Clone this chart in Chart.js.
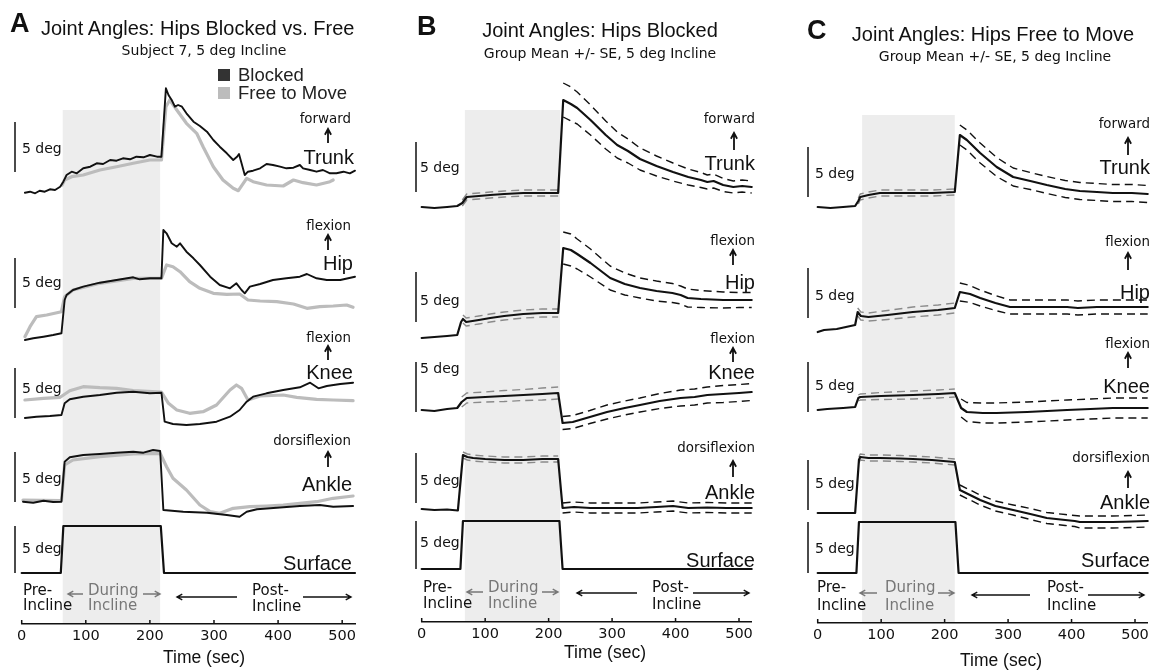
<!DOCTYPE html>
<html>
<head>
<meta charset="utf-8">
<script src="https://cdn.jsdelivr.net/npm/chart.js@4.4.1/dist/chart.umd.min.js"></script>
<style>
  html, body { margin: 0; padding: 0; background: #fff; }
  #fig { position: relative; width: 1159px; height: 671px; overflow: hidden; color: #111; }
  #fig canvas { position: absolute; top: 0; }
  #arrows { position: absolute; left: 0; top: 0; }
  .t { position: absolute; white-space: nowrap; line-height: 1; }
  .letter { font: bold 27px "Liberation Sans", Arial, sans-serif; }
  .title { font: 20px "Liberation Sans", Arial, sans-serif; }
  .sub { font: 14px "DejaVu Sans", sans-serif; }
  .legend { font: 18.5px "Liberation Sans", Arial, sans-serif; color: #222; }
  .small { font: 13.4px "DejaVu Sans", sans-serif; }
  .big { font: 20px "Liberation Sans", Arial, sans-serif; }
  .deg { font: 14px "DejaVu Sans", sans-serif; }
  .phase { font: 15px "DejaVu Sans", sans-serif; }
  .during { font: 15px "DejaVu Sans", sans-serif; color: #777; }
  .time { font: 17.5px "Liberation Sans", Arial, sans-serif; }
  .sq { position: absolute; width: 12px; height: 12px; }
</style>
</head>
<body>
<div id="fig">
  <canvas id="chartA" width="386" height="671" style="left:0px"></canvas>
  <canvas id="chartB" width="386" height="671" style="left:386px"></canvas>
  <canvas id="chartC" width="387" height="671" style="left:772px"></canvas>
  <svg id="arrows" width="1159" height="671"></svg>
</div>

<script>
// ---- data: joint angles in deg, relative to the pre-incline level, time in sec ----
const timeTicks = [0, 100, 200, 300, 400, 500];
const timeMax = 520;

// platform surface angle (same protocol in every panel)
const surfaceTrace = [[0, 0], [61, 0], [65, 5], [217, 5], [222, 0], [520, 0]];

// the shaded incline period, per panel
const bandA = [64, 216];
const bandB = [68, 218];
const bandC = [70, 216];

// panel A, subject 7: [time, deg]
const trunkBlockedA = [[5, 0.03], [13, 0.13], [21, -0.03], [28, 0.23], [36, 0.13], [44, 0.37], [52, 0.3], [60, 0.63], [65, 1.13], [70, 1.8], [78, 2.13], [86, 1.97], [96, 2.47], [107, 2.63], [117, 2.97], [127, 2.9], [138, 3.3], [148, 3.23], [158, 3.47], [169, 3.37], [179, 3.63], [190, 3.57], [200, 3.8], [211, 3.63], [218, 3.63], [225, 10.47], [229, 9.8], [234, 9.3], [239, 8.63], [244, 8.8], [250, 8.63], [257, 7.97], [268, 7.13], [278, 6.7], [289, 6.13], [299, 5.3], [309, 4.63], [320, 3.97], [330, 3.3], [336, 3.63], [339, 3.9], [343, 2.97], [348, 1.8], [353, 2.13], [361, 2.23], [372, 2.47], [382, 2.9], [392, 2.8], [403, 2.63], [413, 2.47], [424, 2.53], [434, 2.8], [439, 2.47], [450, 2.3], [460, 2.13], [470, 2.3], [481, 1.97], [491, 1.97], [502, 2.13], [512, 1.97], [520, 2.23]];
const trunkFreeA = [[63, 0.8], [67, 1.3], [78, 1.63], [96, 1.8], [122, 2.3], [148, 2.63], [174, 2.97], [200, 3.3], [218, 3.3], [225, 8.63], [231, 9.3], [242, 8.3], [257, 6.97], [273, 5.97], [283, 4.63], [299, 2.63], [314, 1.3], [330, 0.47], [338, 0.23], [351, 1.47], [361, 1.13], [382, 0.8], [408, 0.7], [424, 1.3], [439, 1.03], [460, 0.8], [481, 1.13], [486, 1.3]];
const hipBlockedA = [[5, 0], [18, 0.17], [34, 0.33], [49, 0.5], [62, 0.67], [67, 4.0], [70, 4.5], [80, 5.0], [96, 5.33], [122, 5.73], [148, 6.0], [174, 6.27], [184, 6.07], [200, 6.17], [218, 6.17], [221, 11.0], [226, 10.67], [234, 9.67], [242, 9.33], [247, 9.67], [257, 8.83], [268, 8.17], [278, 7.5], [294, 6.33], [309, 5.5], [325, 5.17], [335, 5.67], [343, 5.0], [348, 4.67], [356, 5.33], [372, 5.6], [392, 6.0], [413, 6.17], [434, 6.33], [445, 6.6], [460, 6.17], [476, 6.0], [497, 6.0], [520, 6.33]];
const hipFreeA = [[5, 0.33], [13, 1.33], [23, 2.33], [39, 2.5], [62, 2.83], [67, 4.33], [80, 5.0], [122, 5.67], [174, 6.17], [218, 6.17], [226, 7.5], [236, 7.33], [247, 6.83], [262, 5.83], [278, 5.17], [299, 4.67], [320, 4.57], [340, 4.6], [353, 4.0], [372, 3.9], [398, 3.83], [424, 3.6], [445, 3.17], [465, 3.33], [486, 3.4], [507, 3.5], [517, 3.27]];
const kneeBlockedA = [[5, 0], [23, 0.13], [44, 0.2], [62, 0.3], [67, 1.47], [75, 1.87], [96, 2.13], [122, 2.3], [148, 2.53], [174, 2.63], [200, 2.47], [218, 2.53], [223, -0.37], [236, -0.6], [257, -0.7], [278, -0.6], [304, -0.37], [325, 0.13], [340, 0.8], [351, 1.63], [361, 2.13], [382, 2.47], [408, 2.8], [434, 3.07], [450, 3.53], [463, 2.97], [476, 3.2], [497, 3.4], [517, 3.53]];
const kneeFreeA = [[5, 1.8], [34, 1.97], [60, 2.07], [75, 2.73], [96, 3.13], [122, 3.03], [148, 2.97], [174, 2.73], [218, 2.6], [229, 1.47], [242, 0.8], [262, 0.47], [283, 0.63], [304, 1.3], [325, 2.8], [335, 3.3], [343, 2.97], [353, 1.8], [372, 2.2], [408, 2.3], [429, 2.07], [460, 1.87], [486, 1.8], [517, 1.73]];
const ankleBlockedA = [[2, 0.03], [18, -0.07], [34, 0.13], [49, 0], [62, 0.03], [67, 4.03], [75, 4.47], [96, 4.7], [122, 4.8], [148, 4.93], [174, 5.03], [190, 4.93], [205, 5.2], [216, 5.1], [221, -0.8], [252, -0.97], [289, -1.07], [320, -1.3], [340, -1.47], [351, -0.97], [367, -0.73], [408, -0.53], [434, -0.4], [465, -0.3], [486, -0.47], [517, -0.4]];
const ankleFreeA = [[2, 0.2], [62, 0.13], [67, 3.7], [80, 4.2], [122, 4.53], [174, 4.8], [216, 4.87], [226, 3.53], [236, 2.37], [257, 1.2], [278, -0.3], [294, -0.97], [309, -1.13], [330, -0.63], [356, -0.47], [382, -0.4], [408, -0.3], [434, -0.13], [460, 0.03], [486, 0.37], [517, 0.6]];

// panels B and C, group mean: [time, mean deg, SE deg] (no SE drawn before the incline)
const trunkB = [[0, 0, null], [20, -0.1, null], [40, 0, null], [56, 0.1, null], [64, 0.4, 0.3], [71, 1.0, 0.3], [90, 1.1, 0.3], [108, 1.2, 0.3], [130, 1.3, 0.3], [160, 1.4, 0.3], [190, 1.4, 0.3], [215, 1.4, 0.3], [223, 10.7, 1.7], [235, 10.3, 1.7], [245, 9.9, 1.6], [266, 8.7, 1.5], [290, 7.2, 1.4], [308, 6.2, 1.3], [325, 5.6, 1.2], [344, 4.8, 1.1], [370, 4.1, 1.0], [396, 3.5, 0.9], [420, 3.0, 0.8], [440, 2.7, 0.75], [450, 2.5, 0.7], [460, 2.6, 0.7], [475, 2.2, 0.65], [491, 2.0, 0.6], [505, 2.1, 0.6], [520, 2.0, 0.6]];
const hipB = [[0, 0, null], [20, 0.1, null], [40, 0.2, null], [56, 0.3, null], [62, 1.6, null], [65, 1.9, 0.4], [70, 1.6, 0.4], [90, 1.8, 0.4], [108, 2.0, 0.4], [130, 2.2, 0.4], [160, 2.4, 0.4], [190, 2.5, 0.4], [215, 2.5, 0.4], [223, 9.0, 1.6], [235, 8.8, 1.6], [245, 8.4, 1.5], [266, 7.5, 1.4], [297, 6.0, 1.2], [320, 5.4, 1.1], [344, 5.0, 1.0], [370, 4.7, 1.0], [395, 4.5, 0.95], [408, 4.3, 0.9], [419, 4.0, 0.9], [440, 3.9, 0.85], [475, 3.8, 0.8], [500, 3.8, 0.75], [520, 3.8, 0.75]];
const kneeB = [[0, 0, null], [20, -0.1, null], [40, 0.1, null], [56, 0.2, null], [63, 0.8, 0.5], [71, 1.2, 0.5], [100, 1.3, 0.5], [130, 1.4, 0.55], [160, 1.5, 0.55], [190, 1.6, 0.6], [215, 1.7, 0.6], [222, -1.3, 0.65], [238, -1.2, 0.65], [265, -0.7, 0.65], [292, -0.2, 0.7], [320, 0.2, 0.7], [344, 0.5, 0.7], [375, 0.9, 0.75], [408, 1.2, 0.8], [430, 1.3, 0.8], [450, 1.5, 0.8], [475, 1.6, 0.85], [500, 1.7, 0.85], [520, 1.8, 0.85]];
const ankleB = [[0, 0.1, null], [20, 0, null], [40, 0.05, null], [57, -0.05, null], [65, 5.5, 0.3], [72, 5.3, 0.3], [81, 5.2, 0.3], [100, 5.1, 0.3], [130, 5.0, 0.3], [160, 5.0, 0.3], [190, 5.1, 0.3], [215, 5.1, 0.3], [222, 0.2, 0.5], [240, 0.3, 0.5], [266, 0.2, 0.5], [300, 0.2, 0.5], [340, 0.2, 0.5], [370, 0.3, 0.5], [396, 0.4, 0.5], [420, 0.2, 0.5], [450, 0.25, 0.5], [480, 0.2, 0.5], [520, 0.2, 0.5]];

const trunkC = [[0, 0, null], [20, -0.1, null], [40, 0, null], [59, 0.1, null], [64, 0.6, 0.3], [67, 1.0, 0.3], [80, 1.2, 0.3], [98, 1.4, 0.3], [130, 1.4, 0.3], [150, 1.4, 0.3], [180, 1.4, 0.3], [216, 1.5, 0.3], [224, 7.2, 1.0], [235, 6.7, 1.0], [256, 5.4, 1.0], [282, 4.0, 0.95], [308, 3.0, 0.9], [335, 2.6, 0.85], [361, 2.2, 0.85], [390, 1.8, 0.85], [413, 1.6, 0.85], [440, 1.5, 0.85], [465, 1.4, 0.85], [495, 1.4, 0.85], [520, 1.3, 0.85]];
const hipC = [[0, 0, null], [10, 0.2, null], [30, 0.3, null], [59, 0.7, null], [63, 2.0, 0.4], [68, 1.6, 0.4], [80, 1.5, 0.4], [110, 1.7, 0.45], [150, 2.0, 0.5], [190, 2.2, 0.5], [216, 2.4, 0.5], [224, 4.0, 0.9], [240, 3.8, 0.85], [256, 3.4, 0.8], [280, 2.9, 0.75], [303, 2.5, 0.7], [340, 2.5, 0.7], [393, 2.5, 0.7], [410, 2.4, 0.7], [440, 2.5, 0.7], [480, 2.5, 0.7], [520, 2.5, 0.7]];
const kneeC = [[0, 0, null], [15, 0.1, null], [40, 0.2, null], [59, 0.3, null], [64, 1.2, 0.3], [67, 1.3, 0.3], [100, 1.4, 0.35], [150, 1.5, 0.4], [190, 1.6, 0.4], [216, 1.7, 0.4], [226, 0.2, 0.9], [235, -0.2, 0.95], [260, -0.3, 1.0], [282, -0.3, 1.0], [330, -0.2, 1.0], [393, 0, 1.0], [430, 0.1, 1.0], [465, 0.2, 1.0], [520, 0.2, 1.0]];
const ankleC = [[0, 0, null], [30, 0, null], [59, 0, null], [65, 5.3, 0.3], [67, 5.6, 0.3], [80, 5.5, 0.3], [98, 5.5, 0.3], [130, 5.45, 0.3], [150, 5.4, 0.3], [180, 5.3, 0.3], [216, 5.1, 0.3], [224, 2.3, 0.5], [240, 1.8, 0.5], [256, 1.3, 0.5], [280, 0.7, 0.5], [308, 0.3, 0.5], [335, -0.1, 0.55], [361, -0.5, 0.55], [390, -0.7, 0.55], [405, -0.8, 0.55], [413, -0.9, 0.6], [440, -0.9, 0.6], [465, -0.9, 0.6], [495, -0.85, 0.6], [520, -0.8, 0.6]];

// ---- layout: pixel rows of each stacked trace (top, bottom, pre-incline level), px per deg, scale bar start ----
const rowsA = [
  {key: 'trunk', top: 80, bottom: 200, zero: 193, ppd: 10, bar: 2.1},
  {key: 'hip', top: 200, bottom: 345, zero: 340, ppd: 10, bar: 3.2},
  {key: 'knee', top: 345, bottom: 430, zero: 418, ppd: 10, bar: 0},
  {key: 'ankle', top: 430, bottom: 520, zero: 502, ppd: 10, bar: 0},
  {key: 'surface', top: 520, bottom: 624, zero: 573, ppd: 9.4, bar: 0}
];
const rowsB = [
  {key: 'trunk', top: 80, bottom: 215, zero: 207, ppd: 10, bar: 1.5},
  {key: 'hip', top: 215, bottom: 345, zero: 338, ppd: 10, bar: 1.6},
  {key: 'knee', top: 345, bottom: 430, zero: 410, ppd: 10, bar: -0.2},
  {key: 'ankle', top: 430, bottom: 515, zero: 510, ppd: 10, bar: 0.7},
  {key: 'surface', top: 515, bottom: 622, zero: 569, ppd: 9.6, bar: 0}
];
const rowsC = [
  {key: 'trunk', top: 80, bottom: 215, zero: 207, ppd: 10, bar: 1.0},
  {key: 'hip', top: 215, bottom: 340, zero: 332, ppd: 10, bar: 1.4},
  {key: 'knee', top: 340, bottom: 430, zero: 410, ppd: 10, bar: -0.2},
  {key: 'ankle', top: 430, bottom: 518, zero: 513, ppd: 10, bar: 0.3},
  {key: 'surface', top: 518, bottom: 623, zero: 573, ppd: 10.2, bar: 0}
];

const BLACK = '#111111';
const GRAY = '#bcbcbc';

function pts(list) {
  return list.map(p => ({x: p[0], y: p[1]}));
}

function line(data, axis, color, width, extra) {
  return Object.assign({
    data: data, yAxisID: axis, borderColor: color, borderWidth: width,
    pointRadius: 0, tension: 0, fill: false, clip: false,
    borderJoinStyle: 'round', borderCapStyle: 'round'
  }, extra || {});
}

// mean line plus dashed mean +/- SE lines
function meanWithSE(list, axis, band) {
  const withSE = list.filter(p => p[2] !== null);
  const dashed = {
    borderDash: [8, 5],
    borderCapStyle: 'butt',
    segment: {
      borderColor: ctx => {
        const a = ctx.p0.parsed.x, b = ctx.p1.parsed.x;
        if (a < 219.5 && b > 219.5) return 'rgba(0,0,0,0)';   // no SE line across the step
        return b <= band[1] ? '#8a8a8a' : BLACK;
      }
    }
  };
  return [
    line(pts(list), axis, BLACK, 2.2),
    line(withSE.map(p => ({x: p[0], y: p[1] + p[2]})), axis, BLACK, 1.4, dashed),
    line(withSE.map(p => ({x: p[0], y: p[1] - p[2]})), axis, BLACK, 1.4, dashed)
  ];
}

// shaded incline, 5 deg scale bars and the small upward time ticks
function decorPlugin(p) {
  return {
    id: 'decor',
    beforeDatasetsDraw(chart) {
      const {ctx, chartArea: a, scales} = chart;
      const x0 = scales.x.getPixelForValue(p.band[0]);
      const x1 = scales.x.getPixelForValue(p.band[1]);
      ctx.save();
      ctx.fillStyle = '#ededed';
      ctx.fillRect(x0, p.bandTop, x1 - x0, a.bottom - 1 - p.bandTop);
      ctx.restore();
    },
    afterDraw(chart) {
      const {ctx, chartArea: a, scales} = chart;
      ctx.save();
      ctx.strokeStyle = BLACK;
      ctx.lineWidth = 1.5;
      ctx.beginPath();
      p.rows.forEach(r => {
        const s = scales[r.key];
        const x = a.left + p.barDx;
        ctx.moveTo(x, s.getPixelForValue(r.bar));
        ctx.lineTo(x, s.getPixelForValue(r.bar + 5));
      });
      timeTicks.forEach(t => {
        const x = scales.x.getPixelForValue(t);
        ctx.moveTo(x, a.bottom);
        ctx.lineTo(x, a.bottom - 4);
      });
      ctx.stroke();
      ctx.restore();
    }
  };
}

class PanelChart {
  constructor(canvasId, p) {
    this.p = p;
    this.chart = new Chart(document.getElementById(canvasId), {
      type: 'line',
      data: {datasets: p.datasets},
      options: {
        responsive: false,
        animation: false,
        events: [],
        layout: {padding: {left: p.left, right: p.right, top: p.rows[0].top, bottom: 0}},
        scales: this.buildScales(),
        plugins: {legend: {display: false}, tooltip: {enabled: false}}
      },
      plugins: [decorPlugin(p)]
    });
  }

  buildScales() {
    const p = this.p;
    const areaBottom = p.rows[p.rows.length - 1].bottom;
    const scales = {
      x: {
        type: 'linear', min: 0, max: timeMax,
        grid: {display: false, drawTicks: false},
        border: {display: true, color: BLACK, width: 1.5},
        ticks: {color: BLACK, padding: 4, font: {family: 'DejaVu Sans', size: 14.5}},
        afterBuildTicks: s => { s.ticks = timeTicks.map(v => ({value: v})); },
        afterFit: s => { s.height = 671 - areaBottom; }
      }
    };
    // one stacked y axis per trace, top to bottom
    p.rows.forEach((r, i) => {
      scales[r.key] = {
        type: 'linear', display: false, position: 'left',
        stack: 'rows', stackWeight: r.bottom - r.top, weight: 10 - i,
        min: -(r.bottom - r.zero) / r.ppd,
        max: (r.zero - r.top) / r.ppd
      };
    });
    return scales;
  }
}

new PanelChart('chartA', {
  rows: rowsA, band: bandA, bandTop: 110, barDx: -6.7, left: 21.7, right: 31,
  datasets: [
    line(pts(trunkBlockedA), 'trunk', BLACK, 1.9),
    line(pts(hipBlockedA), 'hip', BLACK, 1.9),
    line(pts(kneeBlockedA), 'knee', BLACK, 1.9),
    line(pts(ankleBlockedA), 'ankle', BLACK, 1.9),
    line(pts(surfaceTrace), 'surface', BLACK, 2.2),
    line(pts(trunkFreeA), 'trunk', GRAY, 3.2),
    line(pts(hipFreeA), 'hip', GRAY, 3.2),
    line(pts(kneeFreeA), 'knee', GRAY, 3.2),
    line(pts(ankleFreeA), 'ankle', GRAY, 3.2)
  ]
});

new PanelChart('chartB', {
  rows: rowsB, band: bandB, bandTop: 110, barDx: -5.7, left: 35.7, right: 20.3,
  datasets: [].concat(
    meanWithSE(trunkB, 'trunk', bandB), meanWithSE(hipB, 'hip', bandB),
    meanWithSE(kneeB, 'knee', bandB), meanWithSE(ankleB, 'ankle', bandB),
    [line(pts(surfaceTrace), 'surface', BLACK, 2.2)]
  )
});

new PanelChart('chartC', {
  rows: rowsC, band: bandC, bandTop: 115, barDx: -9.7, left: 45.7, right: 11.3,
  datasets: [].concat(
    meanWithSE(trunkC, 'trunk', bandC), meanWithSE(hipC, 'hip', bandC),
    meanWithSE(kneeC, 'knee', bandC), meanWithSE(ankleC, 'ankle', bandC),
    [line(pts(surfaceTrace), 'surface', BLACK, 2.2)]
  )
});

// ---- text: [text, x, y(center), align l/c/r, class] ----
const texts = [
  ['A', 10, 23, 'l', 'letter'],
  ['Joint Angles: Hips Blocked vs. Free', 41, 28, 'l', 'title'],
  ['Subject 7, 5 deg Incline', 204, 50, 'c', 'sub'],
  ['Blocked', 238, 75, 'l', 'legend'],
  ['Free to Move', 238, 93, 'l', 'legend'],
  ['forward', 351, 118, 'r', 'small'], ['Trunk', 354, 157, 'r', 'big'],
  ['flexion', 351, 225, 'r', 'small'], ['Hip', 353, 263, 'r', 'big'],
  ['flexion', 351, 337, 'r', 'small'], ['Knee', 353, 372, 'r', 'big'],
  ['dorsiflexion', 351, 440, 'r', 'small'], ['Ankle', 352, 484, 'r', 'big'],
  ['Surface', 352, 563, 'r', 'big'],
  ['5 deg', 22, 148, 'l', 'deg'], ['5 deg', 22, 282, 'l', 'deg'], ['5 deg', 22, 388, 'l', 'deg'],
  ['5 deg', 22, 478, 'l', 'deg'], ['5 deg', 22, 548, 'l', 'deg'],
  ['Pre-', 23, 590, 'l', 'phase'], ['Incline', 23, 605, 'l', 'phase'],
  ['During', 88, 590, 'l', 'during'], ['Incline', 88, 605, 'l', 'during'],
  ['Post-', 252, 590, 'l', 'phase'], ['Incline', 252, 606, 'l', 'phase'],
  ['Time (sec)', 204, 657, 'c', 'time'],

  ['B', 417, 26, 'l', 'letter'],
  ['Joint Angles: Hips Blocked', 600, 30, 'c', 'title'],
  ['Group Mean +/- SE, 5 deg Incline', 600, 53, 'c', 'sub'],
  ['forward', 755, 118, 'r', 'small'], ['Trunk', 755, 163, 'r', 'big'],
  ['flexion', 755, 240, 'r', 'small'], ['Hip', 755, 282, 'r', 'big'],
  ['flexion', 755, 338, 'r', 'small'], ['Knee', 755, 372, 'r', 'big'],
  ['dorsiflexion', 755, 447, 'r', 'small'], ['Ankle', 755, 492, 'r', 'big'],
  ['Surface', 755, 560, 'r', 'big'],
  ['5 deg', 420, 167, 'l', 'deg'], ['5 deg', 420, 300, 'l', 'deg'], ['5 deg', 420, 368, 'l', 'deg'],
  ['5 deg', 420, 480, 'l', 'deg'], ['5 deg', 420, 542, 'l', 'deg'],
  ['Pre-', 423, 587, 'l', 'phase'], ['Incline', 423, 603, 'l', 'phase'],
  ['During', 488, 587, 'l', 'during'], ['Incline', 488, 603, 'l', 'during'],
  ['Post-', 652, 587, 'l', 'phase'], ['Incline', 652, 604, 'l', 'phase'],
  ['Time (sec)', 605, 652, 'c', 'time'],

  ['C', 807, 30, 'l', 'letter'],
  ['Joint Angles: Hips Free to Move', 993, 34, 'c', 'title'],
  ['Group Mean +/- SE, 5 deg Incline', 995, 56, 'c', 'sub'],
  ['forward', 1150, 123, 'r', 'small'], ['Trunk', 1150, 167, 'r', 'big'],
  ['flexion', 1150, 241, 'r', 'small'], ['Hip', 1150, 292, 'r', 'big'],
  ['flexion', 1150, 343, 'r', 'small'], ['Knee', 1150, 386, 'r', 'big'],
  ['dorsiflexion', 1150, 457, 'r', 'small'], ['Ankle', 1150, 502, 'r', 'big'],
  ['Surface', 1150, 560, 'r', 'big'],
  ['5 deg', 815, 173, 'l', 'deg'], ['5 deg', 815, 295, 'l', 'deg'], ['5 deg', 815, 385, 'l', 'deg'],
  ['5 deg', 815, 483, 'l', 'deg'], ['5 deg', 815, 548, 'l', 'deg'],
  ['Pre-', 817, 587, 'l', 'phase'], ['Incline', 817, 605, 'l', 'phase'],
  ['During', 885, 587, 'l', 'during'], ['Incline', 885, 605, 'l', 'during'],
  ['Post-', 1047, 587, 'l', 'phase'], ['Incline', 1047, 605, 'l', 'phase'],
  ['Time (sec)', 1001, 660, 'c', 'time']
];

const fig = document.getElementById('fig');
const shift = {l: '0', c: '-50%', r: '-100%'};
texts.forEach(([txt, x, y, align, cls]) => {
  const d = document.createElement('div');
  d.className = 't ' + cls;
  d.textContent = txt;
  d.style.left = x + 'px';
  d.style.top = y + 'px';
  d.style.transform = 'translate(' + shift[align] + ',-50%)';
  fig.appendChild(d);
});

// legend swatches of panel A
[['#333333', 218, 69], [GRAY, 218, 87]].forEach(([c, x, y]) => {
  const s = document.createElement('div');
  s.className = 'sq';
  s.style.background = c;
  s.style.left = x + 'px';
  s.style.top = y + 'px';
  fig.appendChild(s);
});

// ---- arrows: [x1, y1, x2, y2, colour] pointing from 1 to 2 ----
const arrows = [
  [328, 143, 328, 129, BLACK], [328, 250, 328, 235, BLACK], [328, 360, 328, 346, BLACK], [328, 467, 328, 452, BLACK],
  [734, 150, 734, 133, BLACK], [733, 265, 733, 250, BLACK], [733, 362, 733, 348, BLACK], [733, 477, 733, 461, BLACK],
  [1128, 155, 1128, 138, BLACK], [1128, 270, 1128, 253, BLACK], [1128, 368, 1128, 353, BLACK], [1128, 488, 1128, 472, BLACK],
  [83, 594, 68, 594, '#777'], [143, 594, 160, 594, '#777'], [237, 597, 177, 597, BLACK], [303, 597, 351, 597, BLACK],
  [483, 592, 467, 592, '#777'], [542, 592, 558, 592, '#777'], [637, 593, 577, 593, BLACK], [693, 593, 749, 593, BLACK],
  [877, 593, 860, 593, '#777'], [938, 593, 954, 593, '#777'], [1030, 595, 972, 595, BLACK], [1088, 595, 1144, 595, BLACK]
];
const svg = document.getElementById('arrows');
arrows.forEach(([x1, y1, x2, y2, c]) => {
  const ang = Math.atan2(y2 - y1, x2 - x1);
  const vertical = x1 === x2;
  const h = vertical ? 6.5 : 6;
  const hx1 = x2 - h * Math.cos(ang - 0.5), hy1 = y2 - h * Math.sin(ang - 0.5);
  const hx2 = x2 - h * Math.cos(ang + 0.5), hy2 = y2 - h * Math.sin(ang + 0.5);
  const path = document.createElementNS('http://www.w3.org/2000/svg', 'path');
  path.setAttribute('d', `M${x1},${y1} L${x2},${y2} M${hx1},${hy1} L${x2},${y2} L${hx2},${hy2}`);
  path.setAttribute('stroke', c);
  path.setAttribute('stroke-width', vertical ? '1.8' : '1.4');
  path.setAttribute('fill', 'none');
  svg.appendChild(path);
});
</script>
</body>
</html>
